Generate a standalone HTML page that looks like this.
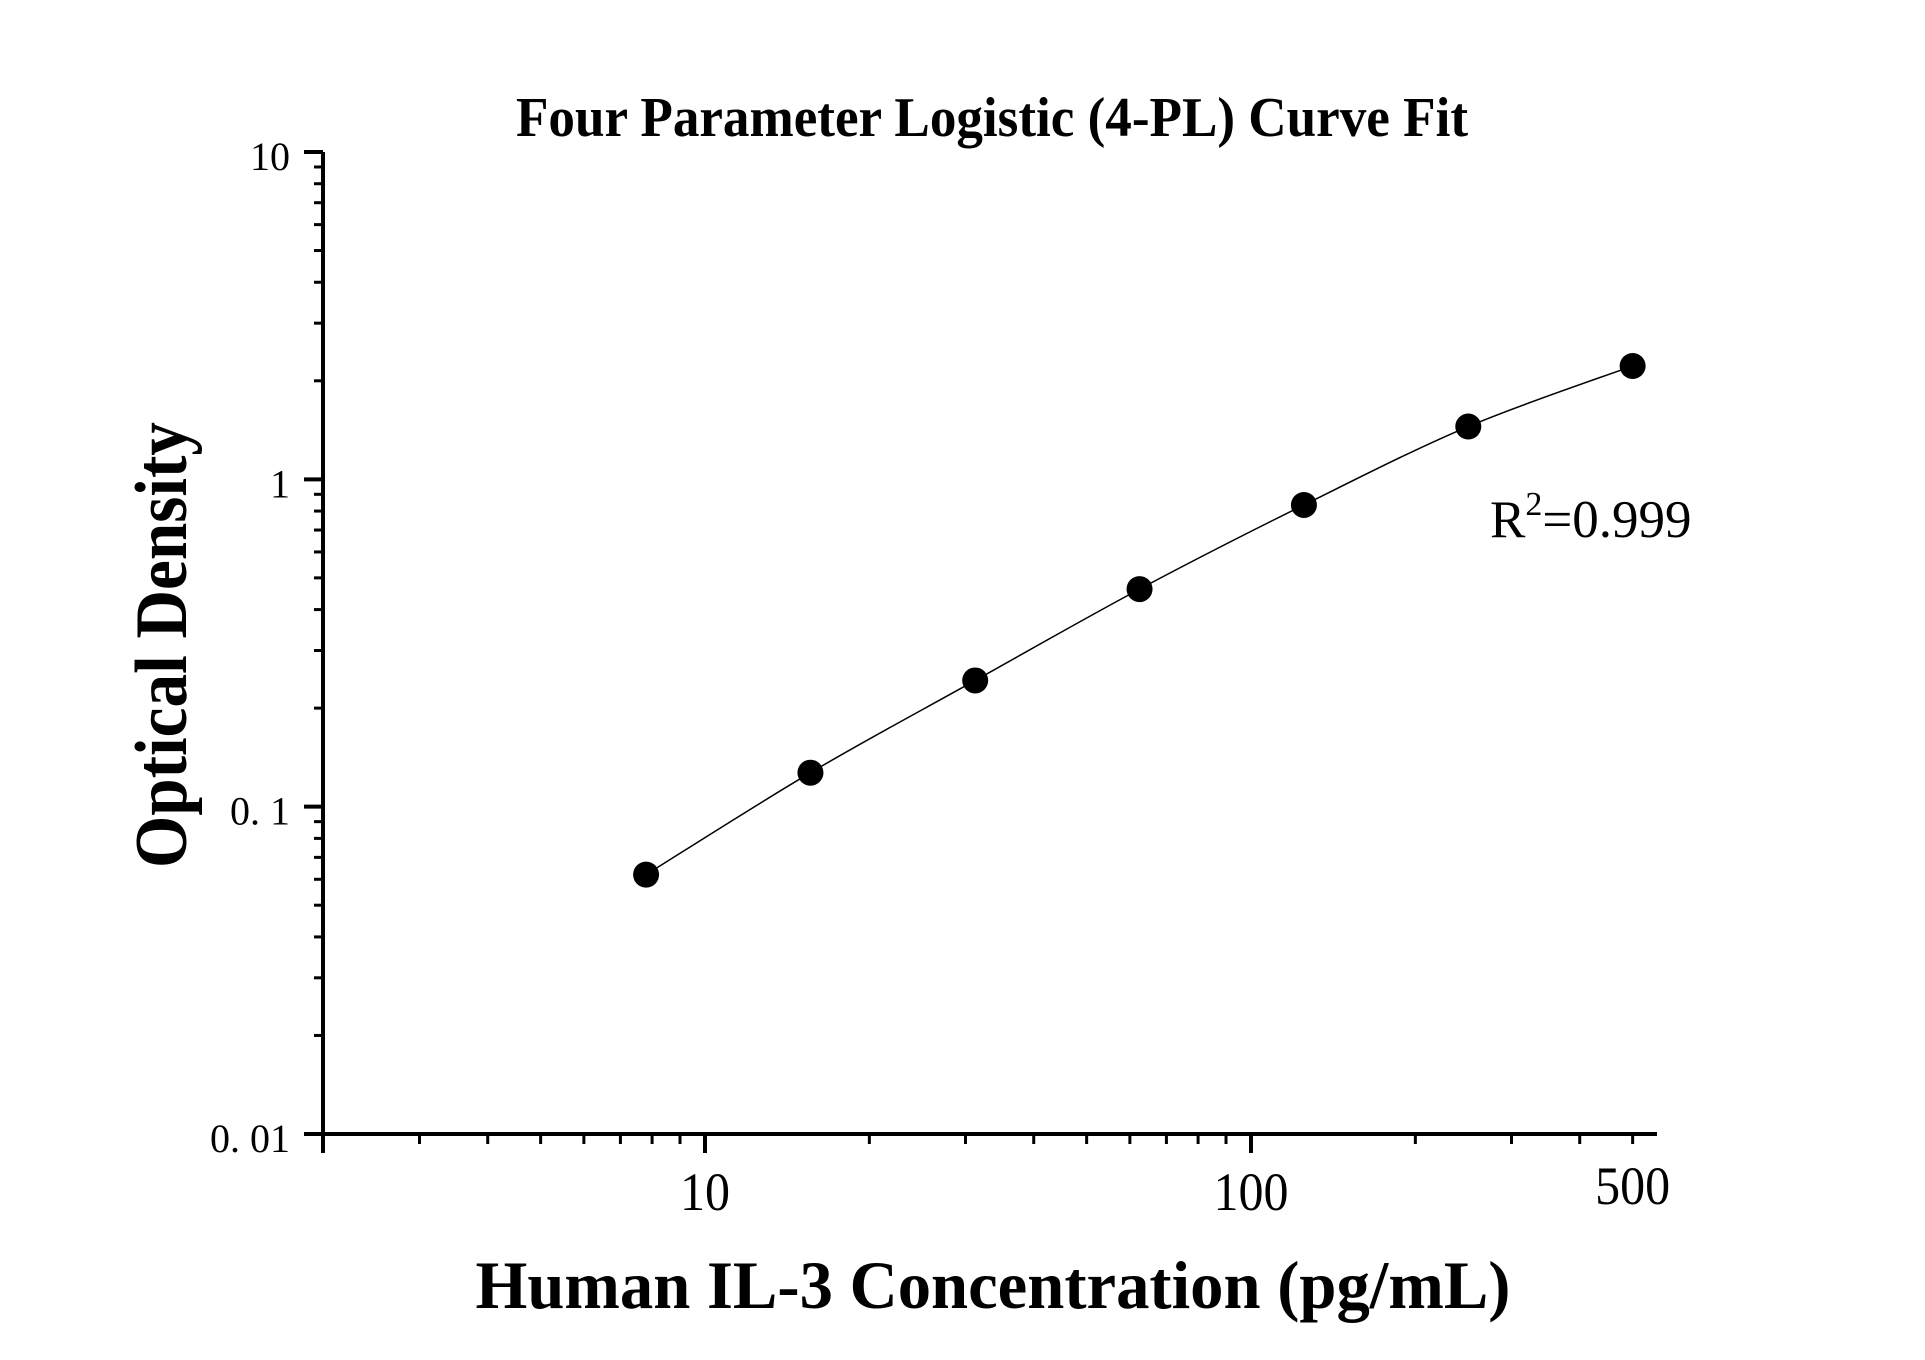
<!DOCTYPE html>
<html><head><meta charset="utf-8"><style>
html,body{margin:0;padding:0;background:#fff;}
svg{display:block;font-family:"Liberation Serif",serif;}
</style></head><body>
<svg id="chart" width="1925" height="1360" viewBox="0 0 1925 1360" xmlns="http://www.w3.org/2000/svg">
<rect x="0" y="0" width="1925" height="1360" fill="#fff"/>
<text x="992" y="136" text-anchor="middle" font-weight="bold" font-size="56" textLength="952" lengthAdjust="spacingAndGlyphs">Four Parameter Logistic (4-PL) Curve Fit</text>
<text transform="translate(186,645) rotate(-90)" text-anchor="middle" font-weight="bold" font-size="74" textLength="446" lengthAdjust="spacingAndGlyphs">Optical Density</text>
<text x="993" y="1308" text-anchor="middle" font-weight="bold" font-size="68" textLength="1035" lengthAdjust="spacingAndGlyphs">Human IL-3 Concentration (pg/mL)</text>
<text x="1490" y="537" font-size="53">R<tspan dy="-22" font-size="34">2</tspan><tspan dy="22">=0.999</tspan></text>
<g id="axes"></g>
<g id="marks"></g>
</svg>
<script>
const concentrations = [7.8, 15.6, 31.25, 62.5, 125, 250, 500];
const odValues = [0.062, 0.127, 0.243, 0.462, 0.835, 1.45, 2.22];
const yTickValues = [10, 1, 0.1, 0.01];
const yTickLabels = ["10", "1", "0. 1", "0. 01"];
const xTickValues = [10, 100, 500];
const xTickLabels = ["10", "100", "500"];

const NS = "http://www.w3.org/2000/svg";
const axX = 323, axY = 1134, yTop = 152, xRight = 1657;
const yDec = (axY - yTop) / 3;
const x10 = 705, xDec = 546;
function sx(v){ return x10 + (Math.log10(v) - 1) * xDec; }
function sy(v){ return axY - (Math.log10(v) + 2) * yDec; }
function mk(tag, attrs, parent){ const e = document.createElementNS(NS, tag); for (const k in attrs) e.setAttribute(k, attrs[k]); parent.appendChild(e); return e; }
const axes = document.getElementById('axes');
const marks = document.getElementById('marks');

let yl = mk('line', {x1:axX, y1:yTop, x2:axX, y2:axY+19, stroke:'#000', 'stroke-width':4}, axes);


let xl = mk('line', {x1:axX-19, y1:axY, x2:xRight, y2:axY, stroke:'#000', 'stroke-width':4}, axes);



for (let d = -2; d < 1; d++) {
  for (let m = 2; m <= 9; m++) {
    const v = m * Math.pow(10, d);
    const t = mk('line', {x1:axX-9, y1:sy(v), x2:axX, y2:sy(v), stroke:'#000', 'stroke-width':3}, axes);
    
    
  }
}
yTickValues.forEach((v, i) => {
  const t = mk('line', {x1:axX-19, y1:sy(v), x2:axX, y2:sy(v), stroke:'#000', 'stroke-width':4}, axes);
  
  
  const tx = mk('text', {x:290, y:sy(v)+18, 'text-anchor':'end', 'font-size':40}, axes);
  tx.textContent = yTickLabels[i];
  
  
});
for (let d = 0; d <= 2; d++) {
  for (let m = 1; m <= 9; m++) {
    const v = m * Math.pow(10, d);
    if (v < 2 || v > 500) continue;
    if (v === 10 || v === 100) continue;
    const t = mk('line', {x1:sx(v), y1:axY, x2:sx(v), y2:axY+10, stroke:'#000', 'stroke-width':3}, axes);
    
    
  }
}
[10, 100].forEach(v => {
  const t = mk('line', {x1:sx(v), y1:axY, x2:sx(v), y2:axY+19, stroke:'#000', 'stroke-width':4}, axes);
  
  
});
xTickValues.forEach((v, i) => {
  const tx = mk('text', {x:sx(v), y: v === 500 ? 1204 : 1210, 'text-anchor':'middle', 'font-size':54, textLength: 25*xTickLabels[i].length, lengthAdjust:'spacingAndGlyphs'}, axes);
  tx.textContent = xTickLabels[i];
  
  
});

const pts = concentrations.map((c, i) => [sx(c), sy(odValues[i])]);
let d = `M${pts[0][0]},${pts[0][1]}`;
for (let i = 0; i < pts.length - 1; i++) {
  const p0 = pts[Math.max(0, i-1)], p1 = pts[i], p2 = pts[i+1], p3 = pts[Math.min(pts.length-1, i+2)];
  const c1 = [p1[0] + (p2[0]-p0[0])/6, p1[1] + (p2[1]-p0[1])/6];
  const c2 = [p2[0] - (p3[0]-p1[0])/6, p2[1] - (p3[1]-p1[1])/6];
  d += ` C${c1[0]},${c1[1]} ${c2[0]},${c2[1]} ${p2[0]},${p2[1]}`;
}
const curve = mk('path', {d:d, fill:'none', stroke:'#000', 'stroke-width':1.5}, marks);


pts.forEach(p => {
  const c = mk('circle', {cx:p[0], cy:p[1], r:13, fill:'#000'}, marks);
  
  
});
</script>
</body></html>
